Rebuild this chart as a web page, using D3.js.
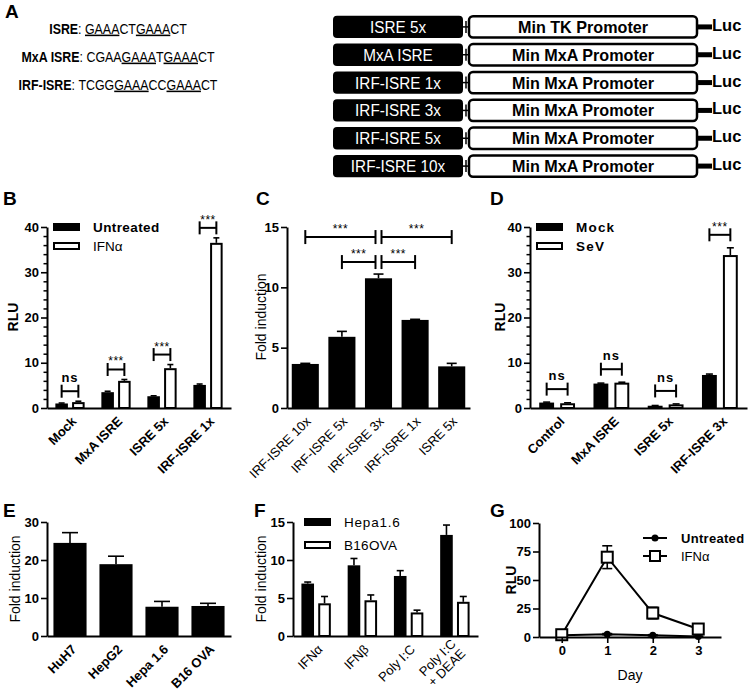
<!DOCTYPE html>
<html>
<head>
<meta charset="utf-8">
<script src="https://cdn.jsdelivr.net/npm/d3@7/dist/d3.min.js"></script>
<style>
body{margin:0;background:#fff;}
svg{display:block;}
</style>
</head>
<body>
<svg id="fig" width="750" height="694"></svg>
<script>
// ---------------- DATA ----------------
// Panel A
const seqNames = ["ISRE", "MxA ISRE", "IRF-ISRE"];
const seqParts = [
  [["GAAA", true], ["CT", false], ["GAAA", true], ["CT", false]],
  [["CGAA", false], ["GAAA", true], ["T", false], ["GAAA", true], ["CT", false]],
  [["TCGG", false], ["GAAA", true], ["CC", false], ["GAAA", true], ["CT", false]]
];
const constructElements = ["ISRE 5x", "MxA ISRE", "IRF-ISRE 1x", "IRF-ISRE 3x", "IRF-ISRE 5x", "IRF-ISRE 10x"];
const constructPromoters = ["Min TK Promoter", "Min MxA Promoter", "Min MxA Promoter", "Min MxA Promoter", "Min MxA Promoter", "Min MxA Promoter"];
const reporterLabel = "Luc";

// Panel B
const catsB = ["Mock", "MxA ISRE", "ISRE 5x", "IRF-ISRE 1x"];
const seriesB = ["Untreated", "IFNα"];
const untreatedB = [1.0, 3.5, 2.6, 5.1];
const untreatedErrB = [0.1, 0.2, 0.1, 0.2];
const ifnB = [1.3, 6.0, 8.8, 36.5];
const ifnErrB = [0.2, 0.3, 0.8, 1.1];
const sigB = ["ns", "***", "***", "***"];
const ticksB = [0, 10, 20, 30, 40];

// Panel C
const catsC = ["IRF-ISRE 10x", "IRF-ISRE 5x", "IRF-ISRE 3x", "IRF-ISRE 1x", "ISRE 5x"];
const foldC = [3.65, 5.9, 10.75, 7.3, 3.45];
const foldErrC = [0.05, 0.45, 0.35, 0.05, 0.25];
const compFromC = [0, 1, 2, 2];
const compToC = [2, 2, 3, 4];
const sigC = ["***", "***", "***", "***"];
const ticksC = [0, 5, 10, 15];

// Panel D
const catsD = ["Control", "MxA ISRE", "ISRE 5x", "IRF-ISRE 3x"];
const seriesD = ["Mock", "SeV"];
const mockD = [1.2, 5.4, 0.5, 7.3];
const mockErrD = [0.1, 0.1, 0.05, 0.2];
const sevD = [1.05, 5.6, 0.8, 33.8];
const sevErrD = [0.1, 0.1, 0.1, 1.6];
const sigD = ["ns", "ns", "ns", "***"];
const ticksD = [0, 10, 20, 30, 40];

// Panel E
const catsE = ["HuH7", "HepG2", "Hepa 1.6", "B16 OVA"];
const foldE = [24.5, 18.9, 7.7, 7.9];
const foldErrE = [2.7, 2.1, 1.4, 0.7];
const ticksE = [0, 10, 20, 30];

// Panel F
const catsF = ["IFNα", "IFNβ", "Poly I:C", "Poly I:C|+ DEAE"];
const seriesF = ["Hepa1.6", "B16OVA"];
const hepaF = [6.9, 9.3, 7.9, 13.3];
const hepaErrF = [0.2, 0.9, 0.7, 1.3];
const b16F = [4.3, 4.7, 3.1, 4.5];
const b16ErrF = [0.9, 0.7, 0.3, 0.7];
const ticksF = [0, 5, 10, 15];

// Panel G
const seriesG = ["Untreated", "IFNα"];
const daysG = [0, 1, 2, 3];
const untreatedG = [1.5, 2.5, 1.5, 0.5];
const untreatedErrG = [0.5, 0.5, 0.5, 0.3];
const ifnG = [2, 70, 21, 7];
const ifnErrG = [1, 10, 5, 3.5];
const ticksG = [0, 25, 50, 75, 100];

// ---------------- HELPERS ----------------
const FONT = "Arial, 'Liberation Sans', Helvetica, sans-serif";
const svg = d3.select("#fig").attr("font-family", FONT);
svg.append("rect").attr("width", 750).attr("height", 694).attr("fill", "#fff");

function letter(t, x, y) {
  svg.append("text").attr("x", x).attr("y", y).attr("font-size", 19)
    .attr("font-weight", "bold").text(t);
}

function yAxis(y, x, ticks, minorStep) {
  const g = svg.append("g").attr("transform", `translate(${x},0)`);
  if (minorStep) {
    const [d0, d1] = y.domain();
    const minor = d3.range(d0, d1 + 1e-9, minorStep).filter(v => !ticks.includes(v));
    g.append("g")
      .call(d3.axisLeft(y).tickValues(minor).tickSize(3.5).tickSizeOuter(0).tickFormat(""))
      .call(s => s.select(".domain").remove())
      .call(s => s.selectAll("line").attr("stroke-width", 1.5));
  }
  const a = g.append("g")
    .call(d3.axisLeft(y).tickValues(ticks).tickSize(6).tickSizeOuter(0).tickPadding(2));
  a.attr("font-family", FONT).attr("font-size", 13).attr("font-weight", "bold");
  a.select(".domain").attr("stroke-width", 2);
  a.selectAll(".tick line").attr("stroke-width", 1.6);
  a.selectAll("text").attr("fill", "#000");
  return a;
}

function xAxisBand(xb, y0, opts) {
  const g = svg.append("g").attr("transform", `translate(0,${y0})`);
  g.call(d3.axisBottom(xb).tickSize(0).tickSizeOuter(0));
  g.select(".domain").attr("stroke-width", 2);
  g.selectAll(".tick text").remove();
  g.selectAll(".tick").each(function (d) {
    const t = d3.select(this).append("text")
      .attr("transform", `translate(${opts.dx},${opts.dy}) rotate(-45)`)
      .attr("text-anchor", "end")
      .attr("font-family", FONT)
      .attr("font-size", opts.size)
      .attr("font-weight", opts.weight)
      .attr("fill", "#000");
    const lines = d.split("|");
    lines.forEach((l, i) => t.append("tspan").attr("x", 0)
      .attr("dy", i === 0 ? (lines.length > 1 ? "-0.25em" : "0.35em") : "1.05em").text(l));
  });
}

function bars(xpos, width, cats, vals, errs, y, filled, capW) {
  const data = cats.map((c, i) => ({ c, v: vals[i], e: errs[i] }));
  const g = svg.append("g");
  const cx = d => xpos(d.c) + width / 2;
  g.selectAll("line.err").data(data).join("line").attr("class", "err")
    .attr("x1", cx).attr("x2", cx)
    .attr("y1", d => y(d.v)).attr("y2", d => y(d.v + d.e))
    .attr("stroke", "#000").attr("stroke-width", 1.6);
  g.selectAll("line.cap").data(data).join("line").attr("class", "cap")
    .attr("x1", d => cx(d) - capW / 2).attr("x2", d => cx(d) + capW / 2)
    .attr("y1", d => y(d.v + d.e)).attr("y2", d => y(d.v + d.e))
    .attr("stroke", "#000").attr("stroke-width", 1.6);
  const inset = filled ? 0 : 1;
  g.selectAll("rect").data(data).join("rect")
    .attr("x", d => xpos(d.c) + inset)
    .attr("y", d => y(d.v) + inset)
    .attr("width", width - 2 * inset)
    .attr("height", d => Math.max(0, y(0) - y(d.v) - inset))
    .attr("fill", filled ? "#000" : "#fff")
    .attr("stroke", "#000").attr("stroke-width", filled ? 0 : 2);
}

function bracket(xa, xb, yl, label, half) {
  const isNs = label === "ns";
  const g = svg.append("g").attr("stroke", "#000").attr("stroke-width", 2);
  g.append("line").attr("x1", xa).attr("x2", xb).attr("y1", yl).attr("y2", yl);
  g.append("line").attr("x1", xa).attr("x2", xa).attr("y1", yl - half).attr("y2", yl + half);
  g.append("line").attr("x1", xb).attr("x2", xb).attr("y1", yl - half).attr("y2", yl + half);
  svg.append("text").attr("x", (xa + xb) / 2).attr("y", isNs ? yl - 9 : yl - 4)
    .attr("text-anchor", "middle")
    .attr("font-size", isNs ? 13 : 12)
    .attr("font-weight", isNs ? "bold" : "normal")
    .attr("letter-spacing", isNs ? 1 : 0.5)
    .text(label);
}

function legendBox(x, y, filled, label, bold, spacing) {
  const inset = filled ? 0 : 1;
  svg.append("rect").attr("x", x + inset).attr("y", y - 4 + inset)
    .attr("width", 27 - 2 * inset).attr("height", 8 - 2 * inset)
    .attr("fill", filled ? "#000" : "#fff").attr("stroke", "#000")
    .attr("stroke-width", filled ? 0 : 2);
  svg.append("text").attr("x", x + 40).attr("y", y + 5).attr("font-size", 13.5)
    .attr("font-weight", bold ? "bold" : "normal").attr("letter-spacing", spacing).text(label);
}

function yTitle(t, x, y, bold) {
  svg.append("text").attr("transform", `translate(${x},${y}) rotate(-90)`)
    .attr("text-anchor", "middle").attr("font-size", 14)
    .attr("font-weight", bold ? "bold" : "normal").text(t);
}

// ---------------- PANEL A ----------------
letter("A", 5, 18);
const ySeq = d3.scaleBand().domain(seqNames).range([14, 98]);
seqNames.forEach((n, i) => {
  const cy = ySeq(n) + ySeq.bandwidth() / 2;
  const t = svg.append("text")
    .attr("transform", `translate(118,${cy + 5.5}) scale(0.8,1)`)
    .attr("text-anchor", "middle").attr("font-size", 15.5);
  t.append("tspan").attr("font-weight", "bold").text(n);
  t.append("tspan").text(": ");
  seqParts[i].forEach(([s, u]) => {
    const ts = t.append("tspan").text(s);
    if (u) ts.attr("text-decoration", "underline").style("text-decoration", "underline");
  });
});

const yCon = d3.scaleBand().domain(constructElements).range([13, 180]).paddingInner(0.2).paddingOuter(0.1);
const boxH = yCon.bandwidth();
constructElements.forEach((e, i) => {
  const top = yCon(e), cy = top + boxH / 2;
  svg.append("rect").attr("x", 333).attr("y", top).attr("width", 130).attr("height", boxH)
    .attr("rx", 4).attr("fill", "#000");
  svg.append("text").attr("transform", `translate(398,${cy + 6}) scale(0.9,1)`).attr("text-anchor", "middle")
    .attr("font-size", 17).attr("fill", "#fff").text(e);
  svg.append("line").attr("x1", 463).attr("x2", 469).attr("y1", cy).attr("y2", cy)
    .attr("stroke", "#000").attr("stroke-width", 1.5);
  svg.append("line").attr("x1", 466).attr("x2", 466).attr("y1", cy - 6).attr("y2", cy + 6)
    .attr("stroke", "#000").attr("stroke-width", 1.5);
  svg.append("rect").attr("x", 469).attr("y", top + 0.5).attr("width", 228).attr("height", boxH - 1)
    .attr("rx", 4).attr("fill", "#fff").attr("stroke", "#000").attr("stroke-width", 2.5);
  svg.append("text").attr("transform", `translate(583,${cy + 6}) scale(0.95,1)`).attr("text-anchor", "middle")
    .attr("font-size", 17).attr("font-weight", "bold").text(constructPromoters[i]);
  svg.append("rect").attr("x", 697).attr("y", cy - 2.5).attr("width", 15).attr("height", 5).attr("fill", "#000");
  svg.append("text").attr("x", 712).attr("y", cy + 4).attr("font-size", 16.5)
    .attr("font-weight", "bold").text(reporterLabel);
});

// ---------------- PANEL B ----------------
letter("B", 3, 205);
const yB = d3.scaleLinear().domain([0, 40]).range([408, 227]);
const xB = d3.scaleBand().domain(catsB).range([47, 231]);
const xB1 = d3.scaleBand().domain(seriesB).range([0, xB.bandwidth()]).paddingInner(0.25).paddingOuter(0.5);
bars(c => xB(c) + xB1(seriesB[0]), xB1.bandwidth(), catsB, untreatedB, untreatedErrB, yB, true, 6);
bars(c => xB(c) + xB1(seriesB[1]), xB1.bandwidth(), catsB, ifnB, ifnErrB, yB, false, 6);
yAxis(yB, 47, ticksB, 2);
xAxisBand(xB, 408, { dx: 4, dy: 11, size: 13, weight: "bold" });
catsB.forEach((c, i) => {
  const xa = xB(c) + xB1(seriesB[0]) + xB1.bandwidth() / 2;
  const xb = xB(c) + xB1(seriesB[1]) + xB1.bandwidth() / 2;
  const top = Math.min(yB(untreatedB[i] + untreatedErrB[i]), yB(ifnB[i] + ifnErrB[i])) - 10;
  bracket(xa, xb, top, sigB[i], 6.5);
});
legendBox(53, 227, true, seriesB[0], true, 0.4);
legendBox(53, 246, false, seriesB[1], false, 0);
yTitle("RLU", 18, 317, true);

// ---------------- PANEL C ----------------
letter("C", 256, 205);
const yC = d3.scaleLinear().domain([0, 15]).range([408, 227]);
const xC = d3.scaleBand().domain(catsC).range([287, 470]).paddingInner(0.26).paddingOuter(0.13);
bars(c => xC(c), xC.bandwidth(), catsC, foldC, foldErrC, yC, true, 10);
yAxis(yC, 287, ticksC, null);
xAxisBand(xC, 408, { dx: 3, dy: 11, size: 13, weight: "normal" });
const topC = d3.min(foldC.map((v, i) => yC(v + foldErrC[i])));
const hubC = 2;
compFromC.forEach((f, i) => {
  const to = compToC[i];
  const lo = Math.min(f, to), hi = Math.max(f, to);
  let xa = xC(catsC[lo]) + xC.bandwidth() / 2;
  let xb = xC(catsC[hi]) + xC.bandwidth() / 2;
  if (lo === hubC) xa += 3;
  if (hi === hubC) xb -= 3;
  const yl = (hi - lo > 1) ? topC - 37 : topC - 12;
  bracket(xa, xb, yl, sigC[i], 7);
});
yTitle("Fold induction", 266, 317, false);

// ---------------- PANEL D ----------------
letter("D", 490, 205);
const yD = d3.scaleLinear().domain([0, 40]).range([408, 227]);
const xD = d3.scaleBand().domain(catsD).range([530, 747]);
const xD1 = d3.scaleBand().domain(seriesD).range([0, xD.bandwidth()]).paddingInner(0.29).paddingOuter(0.44);
bars(c => xD(c) + xD1(seriesD[0]), xD1.bandwidth(), catsD, mockD, mockErrD, yD, true, 7);
bars(c => xD(c) + xD1(seriesD[1]), xD1.bandwidth(), catsD, sevD, sevErrD, yD, false, 7);
yAxis(yD, 530, ticksD, 2);
xAxisBand(xD, 408, { dx: 5, dy: 11, size: 13, weight: "bold" });
catsD.forEach((c, i) => {
  const xa = xD(c) + xD1(seriesD[0]) + xD1.bandwidth() / 2;
  const xb = xD(c) + xD1(seriesD[1]) + xD1.bandwidth() / 2;
  const top = Math.min(yD(mockD[i] + mockErrD[i]), yD(sevD[i] + sevErrD[i])) - 13;
  bracket(xa, xb, top, sigD[i], 6.5);
});
legendBox(536, 227, true, seriesD[0], true, 1.2);
legendBox(536, 246, false, seriesD[1], true, 1.2);
yTitle("RLU", 505, 317, true);

// ---------------- PANEL E ----------------
letter("E", 3, 517);
const yE = d3.scaleLinear().domain([0, 30]).range([636, 522]);
const xE = d3.scaleBand().domain(catsE).range([47, 231]).paddingInner(0.28).paddingOuter(0.14);
bars(c => xE(c), xE.bandwidth(), catsE, foldE, foldErrE, yE, true, 16);
yAxis(yE, 47, ticksE, null);
xAxisBand(xE, 636, { dx: 4, dy: 11, size: 13, weight: "bold" });
yTitle("Fold induction", 20, 579, false);

// ---------------- PANEL F ----------------
letter("F", 254, 517);
const yF = d3.scaleLinear().domain([0, 15]).range([636, 522]);
const xF = d3.scaleBand().domain(catsF).range([293, 478]);
const xF1 = d3.scaleBand().domain(seriesF).range([0, xF.bandwidth()]).paddingInner(0.25).paddingOuter(0.5);
bars(c => xF(c) + xF1(seriesF[0]), xF1.bandwidth(), catsF, hepaF, hepaErrF, yF, true, 7);
bars(c => xF(c) + xF1(seriesF[1]), xF1.bandwidth(), catsF, b16F, b16ErrF, yF, false, 7);
yAxis(yF, 293, ticksF, null);
xAxisBand(xF, 636, { dx: 4, dy: 11, size: 13, weight: "normal" });
legendBox(304, 522, true, seriesF[0], false, 0.8);
legendBox(304, 545, false, seriesF[1], false, 0.3);
yTitle("Fold induction", 266, 579, false);

// ---------------- PANEL G ----------------
letter("G", 490, 517);
const xG = d3.scaleLinear().domain([-0.5, 3.5]).range([539, 721]);
const yG = d3.scaleLinear().domain([0, 100]).range([637, 523]);
const lineG = d3.line().x(d => xG(d.d)).y(d => yG(d.v));
const dUn = daysG.map((d, i) => ({ d, v: untreatedG[i], e: untreatedErrG[i] }));
const dIfn = daysG.map((d, i) => ({ d, v: ifnG[i], e: ifnErrG[i] }));
[dIfn, dUn].forEach(data => {
  svg.append("path").datum(data).attr("d", lineG).attr("fill", "none")
    .attr("stroke", "#000").attr("stroke-width", 2);
  const g = svg.append("g").attr("stroke", "#000").attr("stroke-width", 1.6);
  g.selectAll("line.v").data(data).join("line").attr("class", "v")
    .attr("x1", d => xG(d.d)).attr("x2", d => xG(d.d))
    .attr("y1", d => yG(d.v - d.e)).attr("y2", d => yG(d.v + d.e));
  ["+", "-"].forEach(s => {
    g.selectAll("line.c" + (s === "+" ? "p" : "m")).data(data).join("line").attr("class", "c" + (s === "+" ? "p" : "m"))
      .attr("x1", d => xG(d.d) - 5).attr("x2", d => xG(d.d) + 5)
      .attr("y1", d => yG(s === "+" ? d.v + d.e : d.v - d.e))
      .attr("y2", d => yG(s === "+" ? d.v + d.e : d.v - d.e));
  });
});
svg.append("g").selectAll("circle").data(dUn).join("circle")
  .attr("cx", d => xG(d.d)).attr("cy", d => yG(d.v)).attr("r", 3.5).attr("fill", "#000");
svg.append("g").selectAll("rect").data(dIfn).join("rect")
  .attr("x", d => xG(d.d) - 5.5).attr("y", d => yG(d.v) - 5.5).attr("width", 11).attr("height", 11)
  .attr("fill", "#fff").attr("stroke", "#000").attr("stroke-width", 2);
yAxis(yG, 539, ticksG, null);
const axG = svg.append("g").attr("transform", "translate(0,637)")
  .call(d3.axisBottom(xG).tickValues(daysG).tickSize(6).tickSizeOuter(0).tickFormat(d3.format("d")));
axG.attr("font-family", FONT).attr("font-size", 13).attr("font-weight", "bold");
axG.select(".domain").attr("stroke-width", 2);
axG.selectAll(".tick line").attr("stroke-width", 1.6);
axG.selectAll("text").attr("fill", "#000");
svg.append("text").attr("x", 630).attr("y", 680).attr("text-anchor", "middle")
  .attr("font-size", 14).text("Day");
yTitle("RLU", 516, 580, true);
// legend G
[[538, seriesG[0], true], [556, seriesG[1], false]].forEach(([ly, lab, isCircle]) => {
  svg.append("line").attr("x1", 643).attr("x2", 667).attr("y1", ly).attr("y2", ly)
    .attr("stroke", "#000").attr("stroke-width", 2);
  if (isCircle) svg.append("circle").attr("cx", 655).attr("cy", ly).attr("r", 3.5).attr("fill", "#000");
  else svg.append("rect").attr("x", 650).attr("y", ly - 5).attr("width", 10).attr("height", 10)
    .attr("fill", "#fff").attr("stroke", "#000").attr("stroke-width", 2);
  svg.append("text").attr("x", 681).attr("y", ly + 5).attr("font-size", 13)
    .attr("font-weight", isCircle ? "bold" : "normal").attr("letter-spacing", isCircle ? 0.3 : 0).text(lab);
});
</script>
</body>
</html>
